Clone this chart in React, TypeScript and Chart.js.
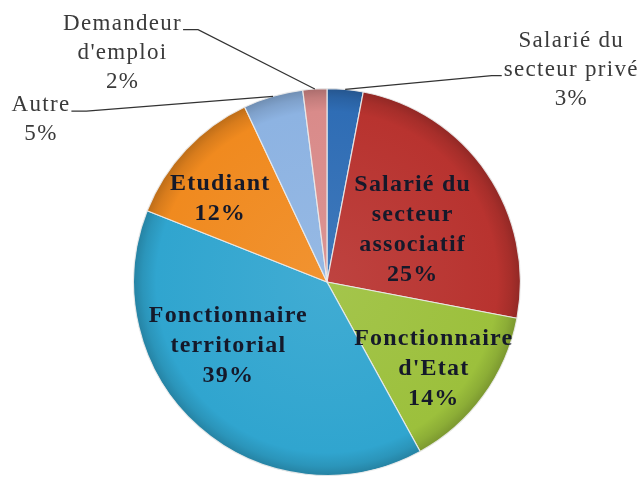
import { useEffect, useRef } from "react";
import { Chart, registerables } from "chart.js";

Chart.register(...registerables);

// ---- Data ----
const categories = [
  "Salarié du secteur privé",
  "Salarié du secteur associatif",
  "Fonctionnaire d'Etat",
  "Fonctionnaire territorial",
  "Etudiant",
  "Autre",
  "Demandeur d'emploi",
];
const shares = [3, 25, 14, 39, 12, 5, 2];
const labelLines = [
  ["Salarié du", "secteur privé"],
  ["Salarié du", "secteur", "associatif"],
  ["Fonctionnaire", "d'Etat"],
  ["Fonctionnaire", "territorial"],
  ["Etudiant"],
  ["Autre"],
  ["Demandeur", "d'emploi"],
];
const sliceColors = ["#2F6DB5", "#B8332F", "#9CC03C", "#30A5CF", "#F08A1F", "#8DB3E2", "#D98B8A"];

// ---- Label layout (in units of the pie radius, relative to the pie centre) ----
type LabelLayout = { inside: boolean; dx: number; dy: number; attachLine?: number; side?: "left" | "right" };
const labelLayout: LabelLayout[] = [
  { inside: false, dx: 1.263, dy: -1.098, attachLine: 1, side: "left" },
  { inside: true, dx: 0.443, dy: -0.268 },
  { inside: true, dx: 0.552, dy: 0.448 },
  { inside: true, dx: -0.51, dy: 0.33 },
  { inside: true, dx: -0.552, dy: -0.428 },
  { inside: false, dx: -1.479, dy: -0.84, attachLine: 0, side: "right" },
  { inside: false, dx: -1.057, dy: -1.186, attachLine: 0, side: "right" },
];

function shade(hex: string, amt: number): string {
  const n = parseInt(hex.slice(1), 16);
  let r = (n >> 16) & 255, g = (n >> 8) & 255, b = n & 255;
  const f = (c: number) => (amt >= 0 ? Math.round(c + (255 - c) * amt) : Math.round(c * (1 + amt)));
  r = f(r); g = f(g); b = f(b);
  return `rgb(${r},${g},${b})`;
}

const labelPlugin = {
  id: "pieLabels",
  afterDatasetsDraw(chart: any) {
    const meta = chart.getDatasetMeta(0);
    const ctx: any = chart.ctx;
    ctx.save();
    meta.data.forEach((arc: any, i: number) => {
      const { x, y, outerRadius, startAngle, endAngle } = arc.getProps(
        ["x", "y", "outerRadius", "startAngle", "endAngle"],
        true
      );
      const L = labelLayout[i];
      const lines = [...labelLines[i], `${shares[i]}%`];
      const tx = x + L.dx * outerRadius;
      const ty = y + L.dy * outerRadius;
      const lh = L.inside ? 30 : 29;
      ctx.font = L.inside
        ? "bold 24px 'Liberation Serif', 'DejaVu Serif', serif"
        : "23px 'Liberation Serif', 'DejaVu Serif', serif";
      ctx.letterSpacing = L.inside ? "1.2px" : "1.3px";
      ctx.fillStyle = L.inside ? "#15192a" : "#3a3a3a";
      ctx.textAlign = "center";
      ctx.textBaseline = "middle";
      const y0 = ty - ((lines.length - 1) * lh) / 2;
      lines.forEach((s, k) => ctx.fillText(s, tx, y0 + k * lh));
      if (!L.inside) {
        const mid = (startAngle + endAngle) / 2;
        const px = x + Math.cos(mid) * outerRadius;
        const py = y + Math.sin(mid) * outerRadius;
        const li = L.attachLine ?? 0;
        const w = ctx.measureText(lines[li]).width;
        const ly = y0 + li * lh + 6;
        ctx.strokeStyle = "#333";
        ctx.lineWidth = 1.2;
        ctx.beginPath();
        if (L.side === "left") {
          const ex = tx - w / 2 - 2;
          ctx.moveTo(px, py);
          ctx.lineTo(ex - 10, ly);
          ctx.lineTo(ex, ly);
        } else {
          const ex = tx + w / 2 + 1;
          ctx.moveTo(ex, ly);
          ctx.lineTo(ex + 15, ly);
          ctx.lineTo(px, py);
        }
        ctx.stroke();
      }
    });
    ctx.restore();
  },
};

export default function App() {
  const ref = useRef<HTMLCanvasElement | null>(null);
  useEffect(() => {
    document.body.style.margin = "0";
    const canvas = ref.current!;
    const chart = new Chart(canvas, {
      type: "pie",
      data: {
        labels: categories,
        datasets: [
          {
            data: shares,
            backgroundColor: (c: any) => {
              const base = sliceColors[c.dataIndex % sliceColors.length];
              const ch = c.chart;
              const area = ch.chartArea;
              if (!area) return base;
              const cx = (area.left + area.right) / 2;
              const cy = (area.top + area.bottom) / 2;
              const r = Math.min(area.right - area.left, area.bottom - area.top) / 2;
              const g = ch.ctx.createRadialGradient(cx, cy, 0, cx, cy, r);
              g.addColorStop(0, shade(base, 0.08));
              g.addColorStop(0.88, base);
              g.addColorStop(0.95, shade(base, -0.1));
              g.addColorStop(1, shade(base, -0.22));
              return g;
            },
            borderColor: "rgba(235,235,235,0.9)",
            borderWidth: 1.2,
          },
        ],
      },
      options: {
        responsive: false,
        animation: false,
        layout: { padding: { top: 88, bottom: 1, left: 100, right: 89 } },
        plugins: {
          legend: { display: false },
          tooltip: { enabled: false },
        },
      },
      plugins: [labelPlugin],
    });
    return () => chart.destroy();
  }, []);
  return <canvas ref={ref} width={643} height={477} style={{ display: "block" }} />;
}
